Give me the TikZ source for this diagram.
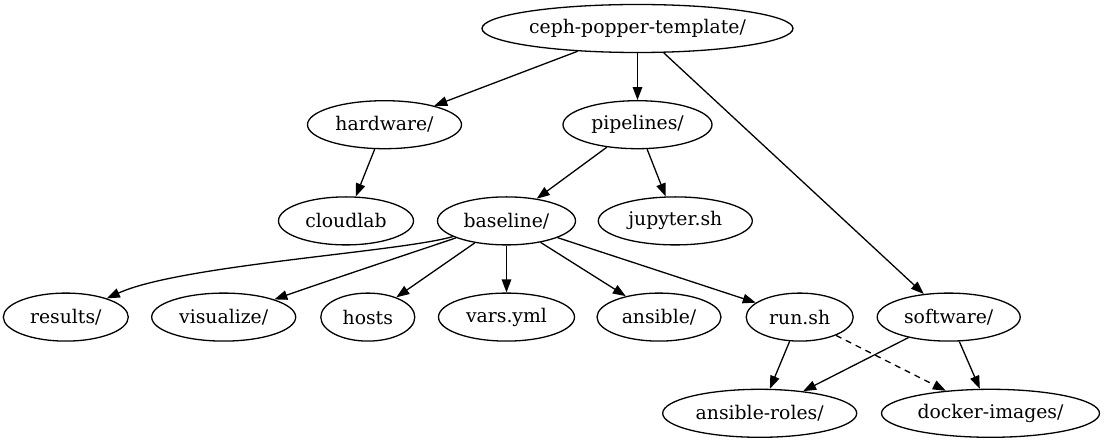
\documentclass[tikz,border=0pt]{standalone}
\usepackage{fontspec}
\setmainfont{DejaVu Serif}
\usetikzlibrary{shapes.geometric,arrows.meta}

\begin{document}
\begin{tikzpicture}[x=1pt,y=-1pt,
  gvnode/.style={ellipse,draw,line width=1.3pt,minimum height=48pt,inner sep=0pt,
    font=\fontsize{18.8}{22}\selectfont},
  gvedge/.style={line width=1.3pt,-{Triangle[length=13pt,width=9.5pt]}},
  gvdash/.style={gvedge,dash pattern=on 6pt off 5pt}]
  \useasboundingbox (0,0) rectangle (1104,443);

  % rank 0
  \node[gvnode,minimum width=311pt] (root) at (637.5,28.5) {ceph-popper-template/};
  % rank 1
  \node[gvnode,minimum width=154pt] (hw)   at (384.5,124.7) {hardware/};
  \node[gvnode,minimum width=149pt] (pipe) at (637.5,124.7) {pipelines/};
  % rank 2
  \node[gvnode,minimum width=135pt] (cloud) at (346,220.9) {cloudlab};
  \node[gvnode,minimum width=138pt] (base)  at (506.5,220.9) {baseline/};
  \node[gvnode,minimum width=154pt] (jup)   at (675.3,220.9) {jupyter.sh};
  % rank 3
  \node[gvnode,minimum width=125pt] (res)  at (65.8,317.1) {results/};
  \node[gvnode,minimum width=144pt] (vis)  at (223.7,317.1) {visualize/};
  \node[gvnode,minimum width=94pt]  (hosts) at (367.8,317.1) {hosts};
  \node[gvnode,minimum width=136pt] (vars) at (506.5,317.1) {vars.yml};
  \node[gvnode,minimum width=124pt] (ans)  at (659,317.1) {ansible/};
  \node[gvnode,minimum width=107pt] (run)  at (799.7,317.1) {run.sh};
  \node[gvnode,minimum width=143pt] (soft) at (948.7,317.1) {software/};
  % rank 4
  \node[gvnode,minimum width=194pt] (roles)  at (759.7,413.3) {ansible-roles/};
  \node[gvnode,minimum width=218pt] (docker) at (990.5,413.3) {docker-images/};

  % edges
  \draw[gvedge] (root) -- (hw);
  \draw[gvedge] (root) -- (pipe);
  \draw[gvedge] (root) -- (soft);
  \draw[gvedge] (hw) -- (cloud);
  \draw[gvedge] (pipe) -- (base);
  \draw[gvedge] (pipe) -- (jup);
  \draw[gvedge] (base) .. controls (400,252) and (180,265) .. (res);
  \draw[gvedge] (base) .. controls (420,250) and (330,280) .. (vis);
  \draw[gvedge] (base) -- (hosts);
  \draw[gvedge] (base) -- (vars);
  \draw[gvedge] (base) -- (ans);
  \draw[gvedge] (base) -- (run);
  \draw[gvedge] (run) -- (roles);
  \draw[gvdash] (run) -- (docker);
  \draw[gvedge] (soft) -- (roles);
  \draw[gvedge] (soft) -- (docker);
\end{tikzpicture}
\end{document}
